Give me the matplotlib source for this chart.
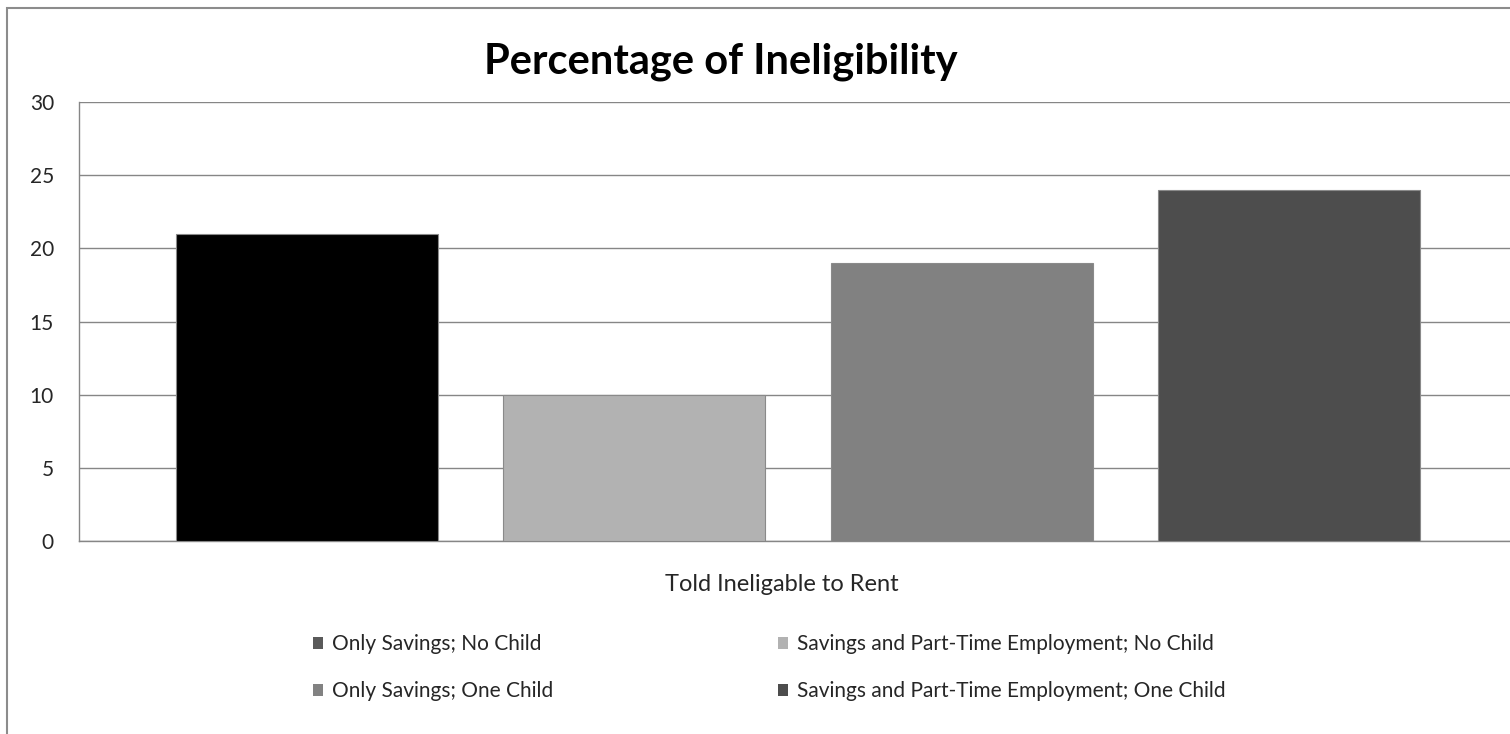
import matplotlib
matplotlib.use("Agg")
import matplotlib.pyplot as plt
from matplotlib.patches import Patch, Rectangle
from matplotlib.transforms import ScaledTranslation

plt.rcParams['font.family'] = ['Lato', 'DejaVu Sans']

title = "Percentage of Ineligibility"
category = "Told Ineligable to Rent"
series = ["Only Savings; No Child",
          "Savings and Part-Time Employment; No Child",
          "Only Savings; One Child",
          "Savings and Part-Time Employment; One Child"]
values = [21, 10, 19, 24]
bar_colors = ["#000000", "#b2b2b2", "#818181", "#4d4d4d"]
legend_colors = ["#5a5a5a", "#b2b2b2", "#828282", "#4d4d4d"]
yticks = [0, 5, 10, 15, 20, 25, 30]

W, H = 1510, 734
fig = plt.figure(figsize=(W / 100, H / 100), dpi=100)
fig.patch.set_facecolor("white")

# outer chart frame
fig.patches.append(Rectangle((7 / W, -0.1), 1.2, 1 - 8 / H + 0.1,
                             transform=fig.transFigure, fill=False,
                             edgecolor="#8c8c8c", linewidth=1.5, clip_on=False))

left, right = 79 / W, 1517 / W
bottom, top = 1 - 541 / H, 1 - 102 / H
ax = fig.add_axes([left, bottom, right - left, top - bottom])
ax.set_facecolor("none")

width = 0.1822
step = 0.2277
for i, (v, c) in enumerate(zip(values, bar_colors)):
    ax.bar(0 + (i - 1.5) * step, v, width=width, color=c,
           edgecolor="#8a8a8a", linewidth=0.8, zorder=3)

ax.set_xlim(-0.5, 0.5)
ax.set_ylim(0, 30)
ax.set_yticks(yticks)
ax.set_yticklabels([str(t) for t in yticks], fontsize=15, color="#262626")
ax.set_xticks([0])
ax.set_xticklabels([category], fontsize=17, color="#262626")
ax.tick_params(axis='x', length=0, pad=24)
ax.tick_params(axis='y', length=0, pad=18)
for lab in ax.get_xticklabels():
    lab.set_transform(lab.get_transform() + ScaledTranslation(-16 / 100, 0, fig.dpi_scale_trans))
ax.yaxis.grid(True, color="#868686", linewidth=1.0, zorder=0)
for s in ["top", "right"]:
    ax.spines[s].set_visible(False)
for s in ["left", "bottom"]:
    ax.spines[s].set_color("#868686")
    ax.spines[s].set_linewidth(1.0)

fig.text(0.4775, 1 - 62 / H, title, fontsize=30, fontweight="bold",
         ha="center", va="center", color="#000000")

handles = [Patch(facecolor=c, edgecolor="none") for c in legend_colors]
order = [0, 2, 1, 3]
leg = fig.legend([handles[i] for i in order], [series[i] for i in order],
                 ncol=2, loc="upper left",
                 bbox_to_anchor=(313 / W, 1 - 634 / H),
                 frameon=False, fontsize=15, handlelength=0.5,
                 handleheight=0.5, handletextpad=0.4,
                 columnspacing=10.8, labelspacing=1.3,
                 borderaxespad=0, borderpad=0)
for t in leg.get_texts():
    t.set_color("#262626")

fig.savefig("out.png", dpi=100)
